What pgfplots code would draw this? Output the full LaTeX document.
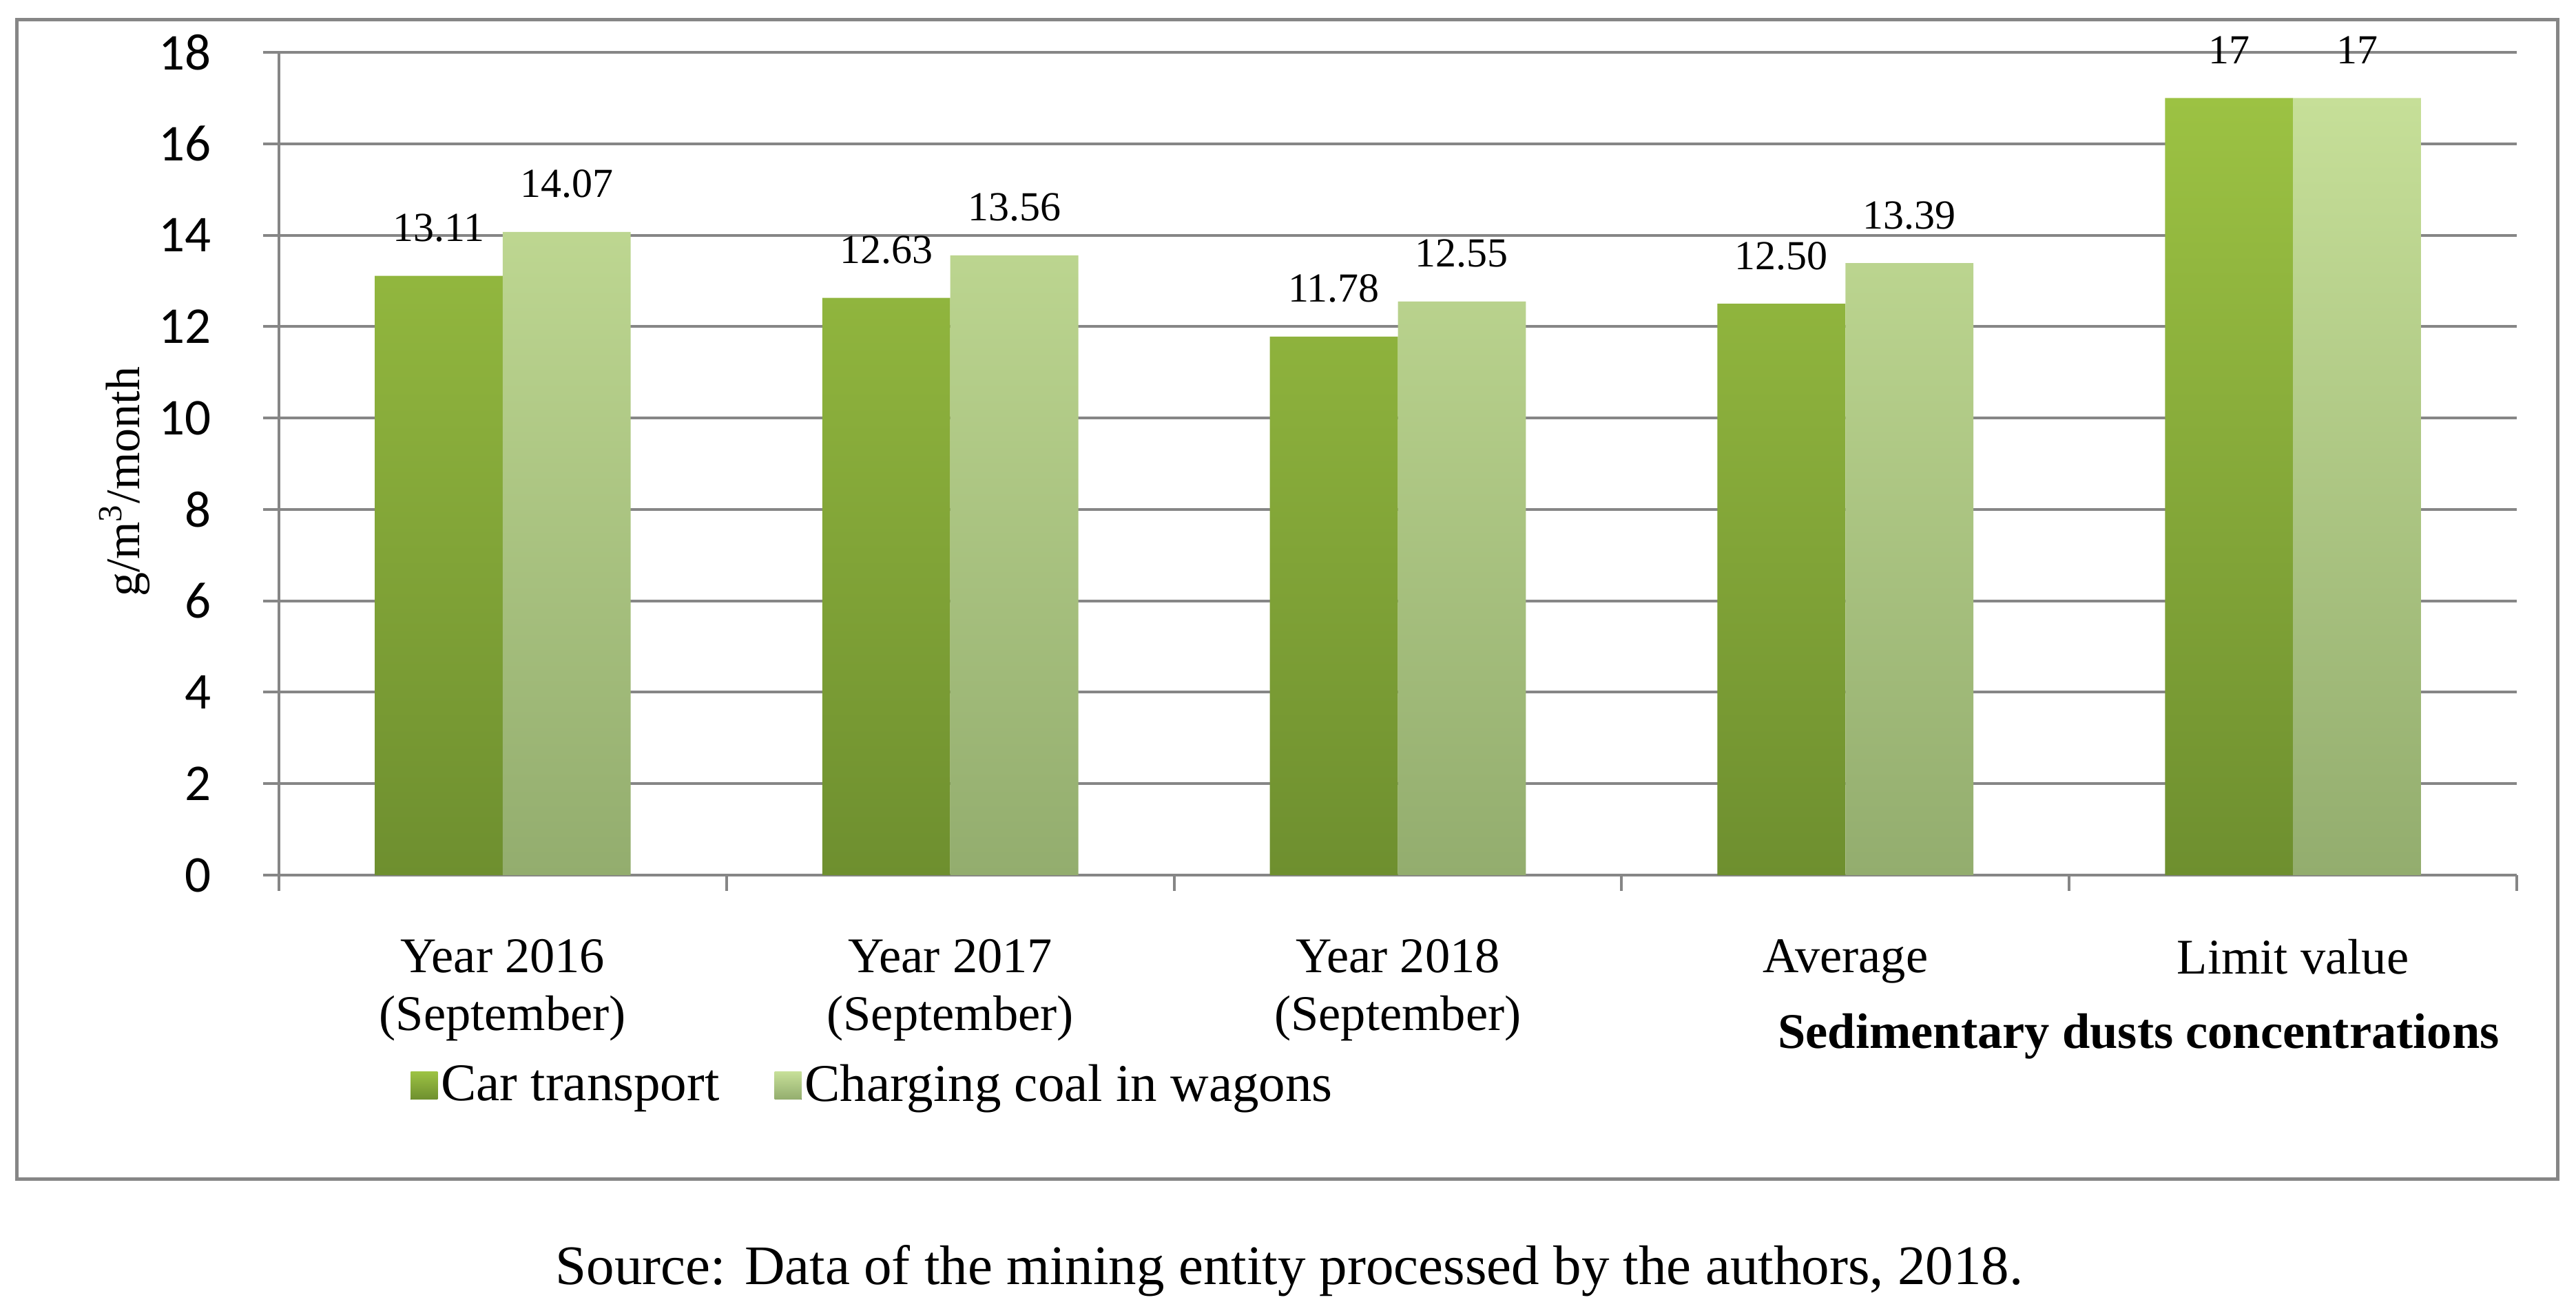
\documentclass[border=0pt]{standalone}
\usepackage{pgfplots}
\pgfplotsset{compat=1.18}
\usepackage{fontspec}
\setmainfont{Liberation Serif}
\newfontfamily\carlito{Carlito}
\definecolor{gridgray}{HTML}{868686}
\definecolor{cartop}{HTML}{9CC243}
\definecolor{carbot}{HTML}{6E8F2F}
\definecolor{chtop}{HTML}{C6DF98}
\definecolor{chbot}{HTML}{93AD6E}
\begin{document}
\begin{tikzpicture}
\path[use as bounding box] (0,0) rectangle (748pt,381.2pt);
\draw[gridgray, line width=1pt] (4.8pt,38.8pt) rectangle (742.6pt,375.4pt);
\begin{axis}[
  at={(81pt,127pt)}, anchor=south west,
  scale only axis, width=649.8pt, height=239pt,
  xmin=-0.5, xmax=4.5, ymin=0, ymax=18,
  ytick={0,2,...,18},
  xtick={0,...,4},
  xticklabels={{Year 2016\\(September)},{Year 2017\\(September)},{Year 2018\\(September)},{Average},{Limit value}},
  minor xtick={-0.5,0.5,1.5,2.5,3.5,4.5},
  axis x line*=bottom, axis y line*=left,
  axis line style={gridgray, line width=0.8pt},
  ymajorgrids, grid style={gridgray, line width=0.8pt},
  major x tick style={draw=none},
  minor x tick style={gridgray, line width=0.8pt},
  major y tick style={gridgray, line width=0.8pt},
  tick align=outside, major tick length=4.5pt, minor tick length=4.5pt,
  xticklabel style={font=\fontsize{14.5}{16.8}\selectfont, align=center, anchor=north, inner sep=0pt, yshift=-14pt},
  yticklabel style={font=\carlito\fontsize{15}{15}\selectfont, anchor=east, inner sep=0pt, xshift=-15pt},
  /pgf/number format/assume math mode=true,
  ylabel={g/m\textsuperscript{3}/month},
  every axis y label/.style={at={(axis description cs:-0.0622,0.478)}, rotate=90, anchor=base, font=\fontsize{14}{14}\selectfont},
  clip=false,
  ybar=0pt, bar width=0.286,
  nodes near coords, point meta=explicit symbolic,
  every node near coord/.append style={anchor=base, inner sep=0pt, yshift=10pt, font=\fontsize{12}{12}\selectfont, black},
  legend columns=2,
  legend style={at={(axis description cs:0.0540,-0.256)}, anchor=west, draw=none, fill=none,
    font=\fontsize{15.4}{17}\selectfont, nodes={inner sep=1pt},
    /tikz/every even column/.append style={column sep=15pt}},
  legend image code/.code={\fill[#1] (0pt,-4pt) rectangle (7.8pt,4pt);},
]
\addplot[draw=none, top color=cartop, bottom color=carbot, bar shift=-0.143]
  coordinates {(0,13.11)[13.11] (1,12.63)[12.63] (2,11.78)[11.78] (3,12.50)[12.50] (4,17)[17]};
\addplot[draw=none, top color=chtop, bottom color=chbot, bar shift=0.143]
  coordinates {(0,14.07)[14.07] (1,13.56)[13.56] (2,12.55)[12.55] (3,13.39)[13.39] (4,17)[17]};
\legend{Car transport, Charging coal in wagons}
\end{axis}
\node[anchor=base, font=\bfseries\fontsize{14.5}{16}\selectfont] at (621pt,76.8pt) {Sedimentary dusts concentrations};
\node[anchor=base, font=\fontsize{16.2}{17}\selectfont] at (374.4pt,8.2pt) {Source: Data of the mining entity processed by the authors, 2018.};
\end{tikzpicture}
\end{document}
